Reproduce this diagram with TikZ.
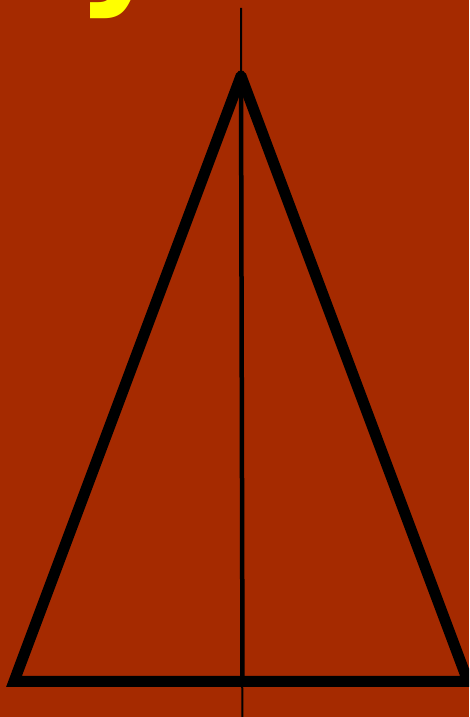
\documentclass[tikz,border=0pt]{standalone}
\usepackage{fontspec}
\newfontfamily\titlefont{DejaVu Sans}
\definecolor{rust}{RGB}{165,42,0}
\definecolor{titleyellow}{RGB}{255,255,0}
\tikzset{
  tri/.style={line width=11pt, line cap=round, line join=miter, draw=black},
  axisline/.style={line width=2pt, draw=black},
  altitude/.style={line width=4.5pt, draw=black},
  titletext/.style={text=titleyellow, font=\titlefont\bfseries\fontsize{140}{140}\selectfont, inner sep=0pt}
}
\begin{document}
\begin{tikzpicture}[x=1pt,y=1pt]
\fill[rust] (0,0) rectangle (469,717);
\useasboundingbox (0,0) rectangle (469,717);
\begin{scope}
\clip (0,0) rectangle (469,717);
\node[titletext, anchor=base east] (title) at (168,728) {Symmetry};
\coordinate (A) at (241,641);
\coordinate (L) at (14,35.5);
\coordinate (R) at (468,35.5);
\coordinate (Ttop) at (241,709);
\coordinate (Tbot) at (242.3,0);
\coordinate (F) at (242.5,35.5);
\draw[axisline] (Ttop) -- (Tbot);
\draw[altitude] (A) -- (F);
\draw[tri] (A) -- (L) -- (R) -- (A);
\end{scope}
\end{tikzpicture}
\end{document}
